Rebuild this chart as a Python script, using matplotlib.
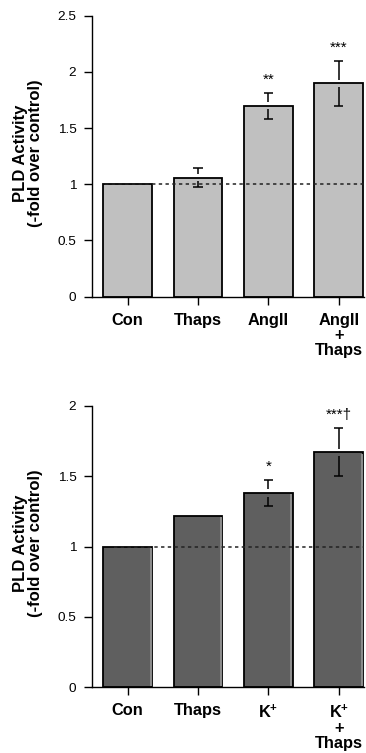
import matplotlib
matplotlib.use("Agg")
import matplotlib.pyplot as plt

plt.rcParams['font.family'] = ['Liberation Sans', 'DejaVu Sans']
plt.rcParams['mathtext.fontset'] = 'custom'
plt.rcParams['mathtext.rm'] = 'Liberation Sans:bold'
plt.rcParams['mathtext.bf'] = 'Liberation Sans:bold'

# Panel A: angiotensin II
labels_a = ["Con", "Thaps", "AngII", "AngII\n+\nThaps"]
means_a = [1.00, 1.06, 1.70, 1.90]
errs_a = [0.0, 0.085, 0.115, 0.20]
sig_a = ["", "", "**", "***"]

# Panel B: potassium
labels_b = ["Con", "Thaps", "K$^{+}$", "K$^{+}$\n+\nThaps"]
means_b = [1.00, 1.22, 1.38, 1.67]
errs_b = [0.0, 0.0, 0.09, 0.17]
sig_b = ["", "", "*", "***\u2020"]

yticks_a = [0, 0.5, 1, 1.5, 2, 2.5]
yticks_b = [0, 0.5, 1, 1.5, 2]
ytick_labels_a = ["0", "0.5", "1", "1.5", "2", "2.5"]
ytick_labels_b = ["0", "0.5", "1", "1.5", "2"]

W, H = 366, 753
fig = plt.figure(figsize=(W / 100, H / 100), dpi=100)
BAR_W = 0.69


def panel(rect, labels, means, errs, sig, yticks, yticklabels, color, ymax,
          dash_start, stripe=None):
    ax = fig.add_axes(rect)
    x = list(range(len(means)))
    ax.bar(x, means, width=BAR_W, color=color, edgecolor="black", linewidth=1.3, zorder=2)
    if stripe:
        # lighter shading along the right side of each bar
        ax.vlines([xi + BAR_W / 2 - 0.018 for xi in x], 0.01, [m - 0.01 for m in means],
                  colors=stripe, lw=1.4, zorder=2.5)
    ax.set_xlim(-0.51, 3.36)
    ax.set_ylim(0, ymax)
    gap = 0.0125 * ymax
    for xi, m, e in zip(x, means, errs):
        if e <= 0:
            continue
        ax.vlines(xi, m + gap, m + e, color="black", lw=1.1, zorder=4)
        ax.vlines(xi, m - e, m - gap, color="black", lw=1.1, zorder=4)
        ax.hlines([m + e, m - e], xi - 0.065, xi + 0.065, color="black", lw=1.1, zorder=4)
    for xi, m, e, s in zip(x, means, errs, sig):
        if s:
            ax.annotate(s, (xi, m + e), xytext=(0, 4.5), textcoords="offset points",
                        ha="center", va="bottom", fontsize=11, zorder=5)
    ax.hlines(1.0, dash_start, 3.36, colors="#222222", linestyles=(0, (2.2, 2.2)),
              lw=1.1, zorder=3)
    for side in ("top", "right"):
        ax.spines[side].set_visible(False)
    ax.spines["left"].set_linewidth(1.0)
    ax.spines["bottom"].set_linewidth(1.0)
    ax.spines["left"].set_bounds(0, ymax)
    ax.set_yticks(yticks)
    ax.set_yticklabels(yticklabels)
    ax.set_xticks(x)
    ax.set_xticklabels(labels, fontweight="bold", fontsize=11.8, linespacing=1.02)
    ax.tick_params(axis="y", direction="out", length=6, width=1.0, pad=5, labelsize=9.7)
    ax.tick_params(axis="x", direction="out", length=5.5, width=1.0, pad=6)
    ax.set_ylabel("PLD Activity\n(-fold over control)", fontweight="bold", fontsize=12,
                  linespacing=1.0)
    ax.yaxis.set_label_coords(-0.179, 0.51)
    return ax


panel([91.7 / W, 1 - 296.7 / H, (364 - 91.7) / W, (296.7 - 15.7) / H],
      labels_a, means_a, errs_a, sig_a, yticks_a, ytick_labels_a, "#c0c0c0", 2.5, -0.32)
panel([91.7 / W, 1 - 687.3 / H, (364 - 91.7) / W, (687.3 - 405.7) / H],
      labels_b, means_b, errs_b, sig_b, yticks_b, ytick_labels_b, "#5f5f5f", 2.0, -0.2,
      stripe="#8e8e8e")

fig.savefig("out.png", dpi=100)
